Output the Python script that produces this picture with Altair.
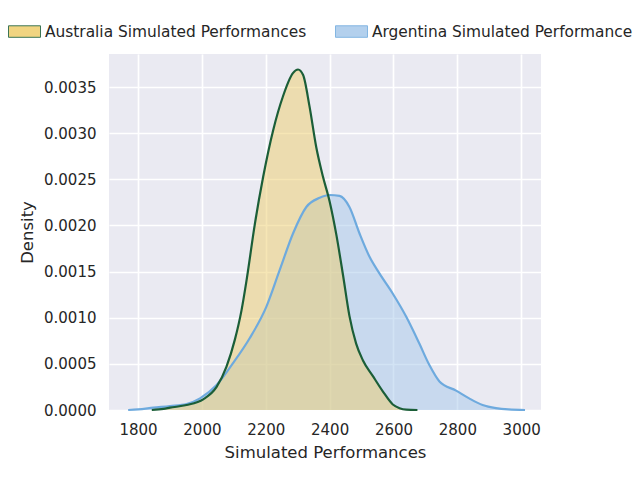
import altair as alt
import pandas as pd

AUS = "Australia Simulated Performances"
ARG = "Argentina Simulated Performances"

aus_x = [1843, 1880, 1900, 1952, 2004, 2046, 2077, 2103, 2124, 2140, 2166, 2192, 2223, 2254,
         2285, 2301, 2317, 2337, 2358, 2379, 2400, 2421, 2442, 2462, 2483, 2504, 2535, 2567,
         2598, 2619, 2640, 2675]
aus_y = [0.0, 0.000012, 0.000025, 0.000054, 0.000116, 0.00025, 0.00047, 0.00076, 0.00108,
         0.00141, 0.00202, 0.00253, 0.00303, 0.00340, 0.00365, 0.00369, 0.00363, 0.00329,
         0.00285, 0.00253, 0.00226, 0.00190, 0.00146, 0.00102, 0.00072, 0.00054, 0.00037,
         0.00020, 0.00006, 0.00002, 0.000004, 0.0]

arg_x = [1769, 1800, 1848, 1900, 1952, 1994, 2046, 2098, 2150, 2202, 2244, 2285, 2327, 2369,
         2400, 2431, 2462, 2494, 2525, 2556, 2598, 2640, 2681, 2712, 2744, 2796, 2837, 2879,
         2921, 2960, 3012]
arg_y = [0.0, 0.000006, 0.000025, 0.000043, 0.000065, 0.000126, 0.00027, 0.00051, 0.00078,
         0.00112, 0.00152, 0.00191, 0.00220, 0.00230, 0.00233, 0.00232, 0.00220, 0.00191,
         0.00166, 0.00148, 0.00126, 0.00101, 0.00072, 0.00049, 0.00031, 0.00021, 0.000126,
         0.000054, 0.00002, 0.000006, 0.0]

x_ticks = [1800, 2000, 2200, 2400, 2600, 2800, 3000]
y_ticks = [0.0, 0.0005, 0.0010, 0.0015, 0.0020, 0.0025, 0.0030, 0.0035]

series = [AUS, ARG]
fill_colors = ["#eecd6c", "#a6c8ea"]
line_colors = ["#1b5e38", "#6eaade"]

df = pd.concat([
    pd.DataFrame({"x": aus_x, "y": aus_y, "series": AUS}),
    pd.DataFrame({"x": arg_x, "y": arg_y, "series": ARG}),
])

xs = alt.Scale(domain=[1709, 3062], nice=False, zero=False)
ys = alt.Scale(domain=[0, 0.003858], nice=False, zero=False)

X = alt.X("x:Q", scale=xs, title="Simulated Performances",
          axis=alt.Axis(values=x_ticks, format="d"))
Y = alt.Y("y:Q", scale=ys, title="Density",
          axis=alt.Axis(values=y_ticks, format=".4f"))

path = "M-1,-0.36L1,-0.36L1,0.36L-1,0.36Z"

legend = alt.Legend(title=None, orient="none", direction="horizontal",
                    legendX=-101, legendY=-39, symbolType=path,
                    symbolSize=1024, labelOffset=4, columnPadding=26,
                    labelFontSize=15.4, labelFont="DejaVu Sans",
                    labelColor="#262626", symbolOpacity=0.85,
                    symbolStrokeWidth=1.0, labelLimit=400)

fill_enc = alt.Fill("series:N", scale=alt.Scale(domain=series, range=fill_colors),
                    legend=legend)
stroke_enc = alt.Stroke("series:N", scale=alt.Scale(domain=series, range=line_colors),
                        legend=legend)

base = alt.Chart(df)

area_arg = base.transform_filter(alt.datum.series == ARG).mark_area(
    interpolate="monotone", fillOpacity=0.5
).encode(x=X, y=Y, fill=fill_enc)

area_aus = base.transform_filter(alt.datum.series == AUS).mark_area(
    interpolate="monotone", fillOpacity=0.5
).encode(x=X, y=Y, fill=fill_enc)

line_arg = base.transform_filter(alt.datum.series == ARG).mark_line(
    interpolate="monotone", strokeWidth=2.2
).encode(x=X, y=Y, stroke=stroke_enc)

line_aus = base.transform_filter(alt.datum.series == AUS).mark_line(
    interpolate="monotone", strokeWidth=2.2
).encode(x=X, y=Y, stroke=stroke_enc)

chart = alt.layer(area_arg, area_aus, line_arg, line_aus).properties(
    width=432, height=356,
    autosize=alt.AutoSizeParams(type="none"),
    padding={"left": 101, "top": 46, "right": 91, "bottom": 62},
    background="white",
).configure_view(
    fill="#eaeaf2", stroke=None
).configure_axis(
    grid=True, gridColor="white", gridWidth=1.7, domain=False, ticks=False,
    labelFont="DejaVu Sans", labelFontSize=15, labelColor="#262626",
    titleFont="DejaVu Sans", titleFontSize=16.5, titleColor="#262626",
    titleFontWeight="normal",
).configure_axisX(
    labelPadding=12, titlePadding=7
).configure_axisY(
    labelPadding=13, titlePadding=8
)

chart.save("out.html", embed_options={"renderer": "svg", "actions": False})
